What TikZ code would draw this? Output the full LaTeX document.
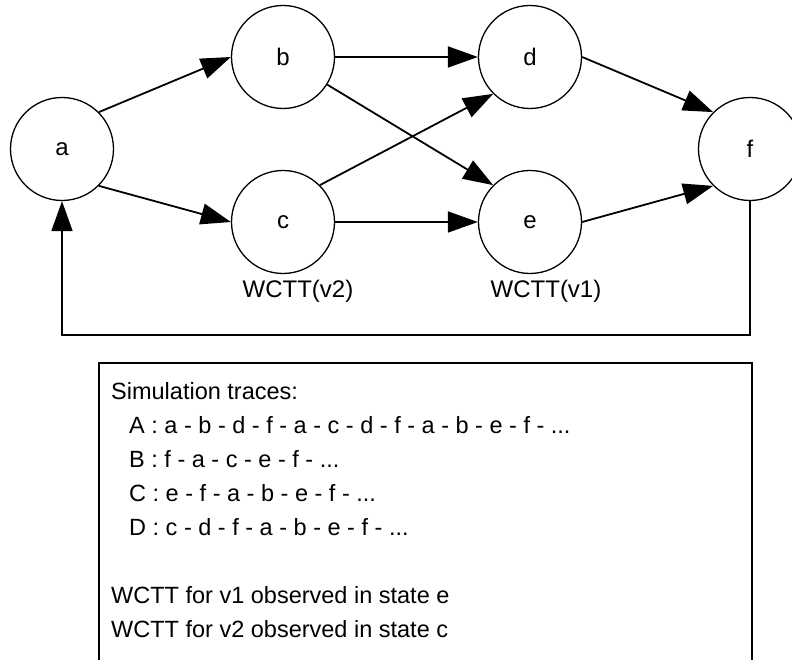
\documentclass[tikz,border=0pt]{standalone}
\usepackage{fontspec}
\setmainfont{Liberation Sans}
\usetikzlibrary{arrows.meta}

\begin{document}
\begin{tikzpicture}[x=1pt, y=1pt,
    state/.style={draw, circle, line width=1.3pt, minimum size=103pt, inner sep=0pt, font=\fontsize{24}{28}\selectfont},
    trans/.style={line width=1.8pt, -{Triangle[length=30pt, width=21pt]}},
    tag/.style={font=\fontsize{24}{28}\selectfont}]
    \clip (0, 0) rectangle (792, 660);

    \node [state] (a) at (62, 511) {a};
    \node [state] (b) at (283, 603) {b};
    \node [state] (c) at (283, 438) {c};
    \node [state] (d) at (530, 603) {d};
    \node [state] (e) at (530, 438) {e};
    \node [state] (f) at (750, 511) {f};

    \node [tag, anchor=base] (wc) at (298, 362) {WCTT(v2)};
    \node [tag, anchor=base] (we) at (546, 362) {WCTT(v1)};

    \draw [trans] (a.north east) -- (b.west);
    \draw [trans] (a.south east) -- (c.west);
    \draw [trans] (b.east) -- (d.west);
    \draw [trans] (b.-32) -- (e.north west);
    \draw [trans] (c.north east) -- (d.south west);
    \draw [trans] (c.east) -- (e.west);
    \draw [trans] (d.east) -- (f.north west);
    \draw [trans] (e.east) -- (f.south west);
    \draw [trans] (f.south) -- ([yshift=-133.5pt]f.south) -| (a.south);

    \draw [line width=1.3pt] (99, 297) rectangle (752, -10);
    \node [anchor=base west, align=left, inner sep=0pt, font=\fontsize{23.5}{34}\selectfont] (traces) at (111, 22)
      {Simulation traces:\\
       \hspace{18pt}A : a - b - d - f - a - c - d - f - a - b - e - f - ...\\
       \hspace{18pt}B : f - a - c - e - f - ...\\
       \hspace{18pt}C : e - f - a - b - e - f - ...\\
       \hspace{18pt}D : c - d - f - a - b - e - f - ...\\
       \mbox{}\\
       WCTT for v1 observed in state e\\
       WCTT for v2 observed in state c};
\end{tikzpicture}
\end{document}
